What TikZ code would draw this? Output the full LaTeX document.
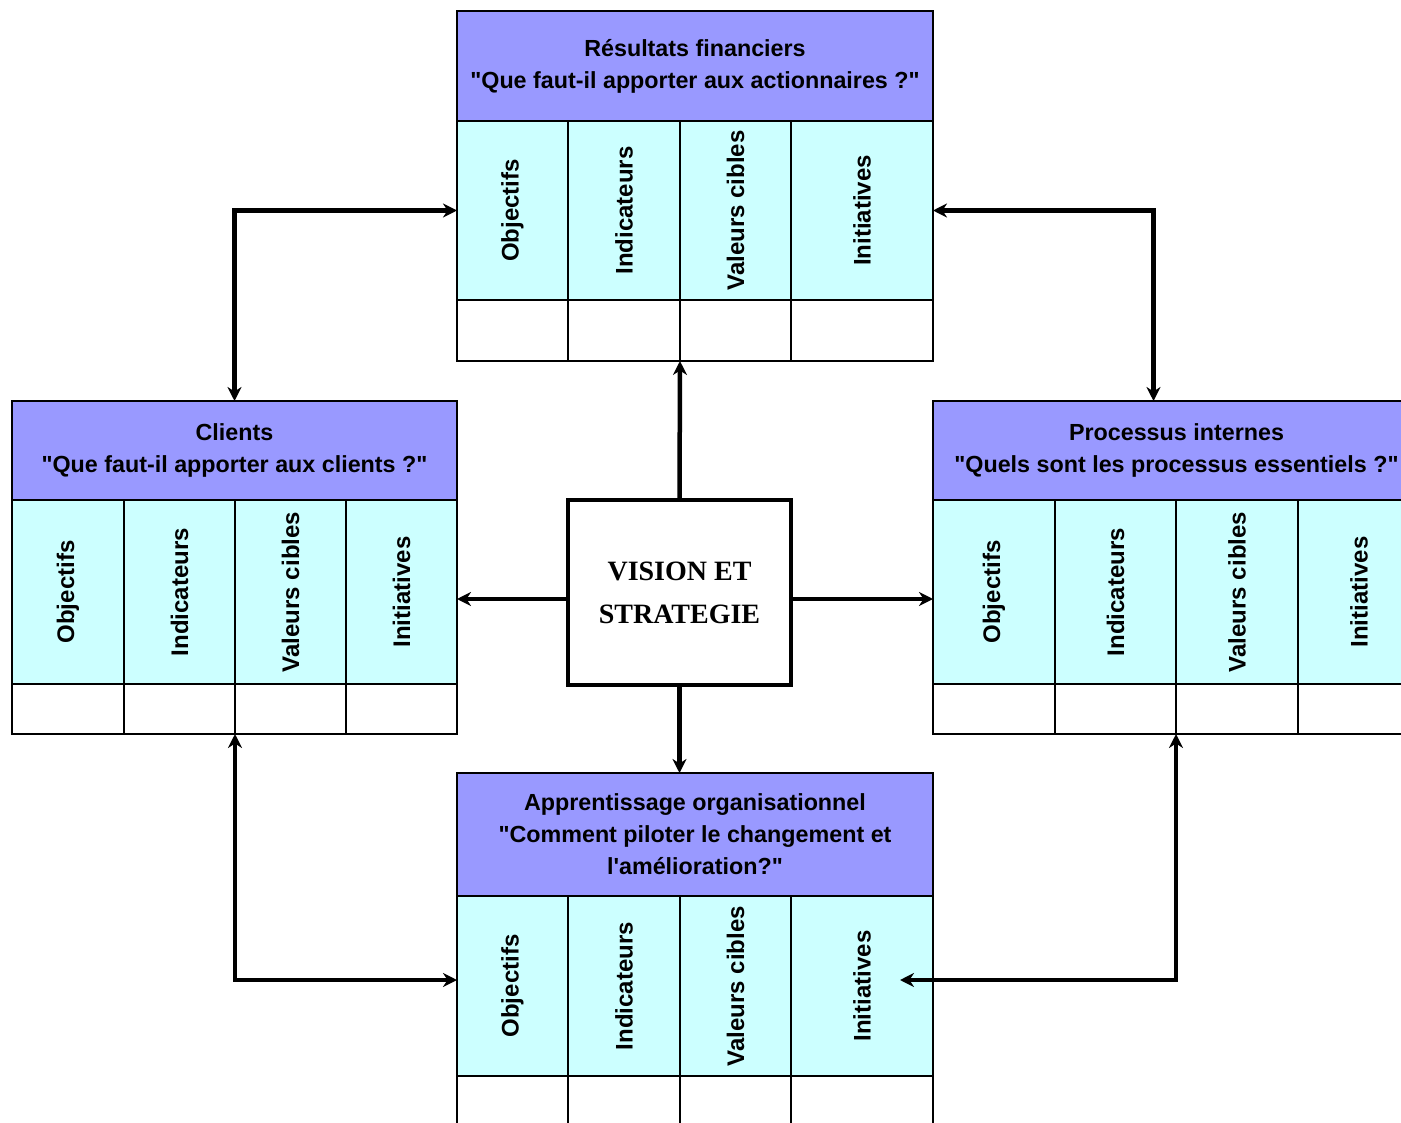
\documentclass[tikz,border=0pt]{standalone}
\usepackage{fontspec}
\setmainfont{Liberation Sans}
\newfontfamily\visionfont{Liberation Serif}
\usetikzlibrary{arrows.meta}
\definecolor{hdr}{HTML}{9999FF}
\definecolor{cy}{HTML}{CCFFFF}
\newcommand\qq{\textquotedbl}
\begin{document}
\begin{tikzpicture}[x=1pt,y=-1pt,
  cell/.style={draw=black, line width=2pt, inner sep=0pt, outer sep=0pt, anchor=north west},
  hdrbox/.style={cell, fill=hdr, align=center, font=\bfseries\fontsize{23.3}{32}\selectfont},
  cyancell/.style={cell, fill=cy},
  whitecell/.style={cell, fill=white},
  lbl/.style={rotate=90, inner sep=0pt, font=\bfseries\fontsize{24}{28}\selectfont},
  tip/.tip={Stealth[length=14pt,width=14pt,inset=4.5pt]},
  conn/.style={line width=4.5pt, -tip},
  biconn/.style={line width=4.5pt, tip-tip},
  visionbox/.style={draw=black, line width=4pt, fill=white, inner sep=0pt, outer sep=0pt,
    minimum width=223, minimum height=185, align=center,
    font=\visionfont\bfseries\fontsize{28}{43}\selectfont}
]
\path[use as bounding box, clip] (0,0) rectangle (1401,1123);
\fill[white] (0,0) rectangle (1401,1123);

% Top panel: Résultats financiers
\node[hdrbox, minimum width=476, minimum height=110] (T) at (457,11)
  {Résultats financiers\\\qq Que faut-il apporter aux actionnaires ?\qq};
\foreach \i/\a/\b/\t in {1/457/568/Objectifs,2/568/680/Indicateurs,3/680/791/Valeurs cibles,4/791/933/Initiatives}{
  \node[cyancell, minimum width=\b-\a, minimum height=179, label={[lbl]center:\t}] (Tc\i) at (\a,121) {};
  \node[whitecell, minimum width=\b-\a, minimum height=61] (Tw\i) at (\a,300) {};
}

% Left panel: Clients
\node[hdrbox, minimum width=445, minimum height=99] (L) at (12,401)
  {Clients\\\qq Que faut-il apporter aux clients ?\qq};
\foreach \i/\a/\b/\t in {1/12/124/Objectifs,2/124/235/Indicateurs,3/235/346/Valeurs cibles,4/346/457/Initiatives}{
  \node[cyancell, minimum width=\b-\a, minimum height=184, label={[lbl]center:\t}] (Lc\i) at (\a,500) {};
  \node[whitecell, minimum width=\b-\a, minimum height=50] (Lw\i) at (\a,684) {};
}

% Right panel: Processus internes
\node[hdrbox, minimum width=487, minimum height=99] (R) at (933,401)
  {Processus internes\\\qq Quels sont les processus essentiels ?\qq};
\foreach \i/\a/\b/\t in {1/933/1055/Objectifs,2/1055/1176/Indicateurs,3/1176/1298/Valeurs cibles,4/1298/1420/Initiatives}{
  \node[cyancell, minimum width=\b-\a, minimum height=184, label={[lbl]center:\t}] (Rc\i) at (\a,500) {};
  \node[whitecell, minimum width=\b-\a, minimum height=50] (Rw\i) at (\a,684) {};
}

% Bottom panel: Apprentissage organisationnel
\node[hdrbox, minimum width=476, minimum height=123] (B) at (457,773)
  {Apprentissage organisationnel\\\qq Comment piloter le changement et\\l\textquotesingle amélioration?\qq};
\foreach \i/\a/\b/\t in {1/457/568/Objectifs,2/568/680/Indicateurs,3/680/791/Valeurs cibles,4/791/933/Initiatives}{
  \node[cyancell, minimum width=\b-\a, minimum height=180, label={[lbl]center:\t}] (Bc\i) at (\a,896) {};
  \node[whitecell, minimum width=\b-\a, minimum height=80] (Bw\i) at (\a,1076) {};
}

% Centre
\node[visionbox] (V) at (679.5,592.5) {VISION ET\\STRATEGIE};

% Connectors from the centre
\coordinate (VL) at ([yshift=-6.5pt]V.west);
\coordinate (VR) at ([yshift=-6.5pt]V.east);
\draw[conn] (V.north) -- (Tw2.south east);
\draw[conn] (V.south) -- (V.south |- B.north);
\draw[conn] (VL) -- (VL -| Lc4.east);
\draw[conn] (VR) -- (VR -| Rc1.west);

% Corner connectors
\coordinate (TRc) at ([xshift=-23pt]R.north);
\coordinate (BLt) at ([yshift=6pt]Bc1.west);
\coordinate (BRt) at (900,980);
\draw[biconn] (L.north) |- (Tc1.west);
\draw[biconn] (TRc) |- (Tc4.east);
\draw[biconn] (Lw2.south east) |- (BLt);
\draw[biconn] (Rw2.south east) |- (BRt);
\end{tikzpicture}
\end{document}
